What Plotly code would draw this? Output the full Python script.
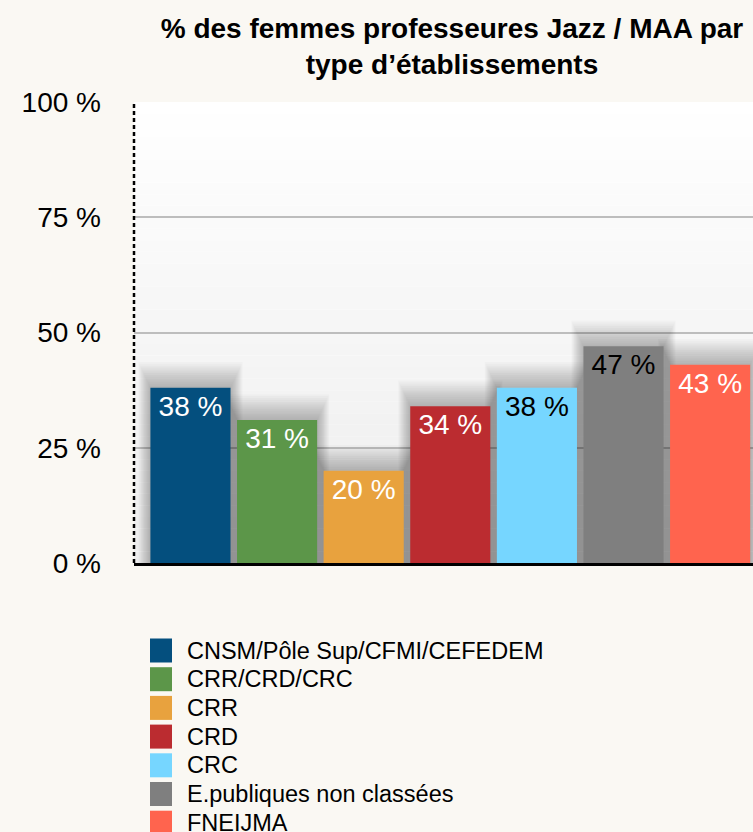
import plotly.graph_objects as go

# data
categories = ['CNSM/Pôle Sup/CFMI/CEFEDEM', 'CRR/CRD/CRC', 'CRR', 'CRD', 'CRC',
              'E.publiques non classées', 'FNEIJMA']
values = [38, 31, 20, 34, 38, 47, 43]
bar_colors = ['#044f7e', '#5c9649', '#e8a23e', '#bb2c30', '#76d6ff', '#7f7f7f', '#ff644e']
text_colors = ['white', 'white', 'white', 'white', 'black', 'black', 'white']
y_ticks = [0, 25, 50, 75, 100]
y_tick_labels = ['0 %', '25 %', '50 %', '75 %', '100 %']

W, H = 753, 832
M_L, M_R, M_T, M_B = 134, 0, 102, 269
FONT = 'Liberation Sans, Arial, Helvetica, sans-serif'
BG = '#faf8f3'


def px_to_paper_y(py):
    return (H - M_B - py) / (H - M_T - M_B)


def px_to_paper_x(px):
    return (px - M_L) / (W - M_L - M_R)


x = list(range(len(categories)))

fig = go.Figure()

# soft shadow behind the bars
for k in range(1, 15):
    fig.add_trace(go.Bar(x=x, y=[v + 0.4 * k for v in values],
                         width=0.925 + 0.02 * k,
                         marker=dict(color='rgba(0,0,0,0.02)', line=dict(width=0)),
                         hoverinfo='skip', showlegend=False))

fig.add_trace(go.Bar(x=x, y=values, width=0.925,
                     marker=dict(color=bar_colors, line=dict(width=0)),
                     text=[f'{v} %' for v in values],
                     textposition='inside', insidetextanchor='end',
                     textangle=0, constraintext='none',
                     textfont=dict(family=FONT, size=28, color=text_colors),
                     hovertext=categories, showlegend=False))

shapes = []
# background gradient of the plot area
n = 40
for i in range(n):
    t = i / n
    c = int(round(237 + (255 - 237) * t))
    shapes.append(dict(type='rect', xref='paper', yref='paper', x0=0, x1=1,
                       y0=i / n, y1=(i + 1) / n, layer='below',
                       fillcolor=f'rgb({c},{c},{c})', line=dict(width=0)))
# dotted y axis
shapes.append(dict(type='line', xref='paper', yref='y', x0=0, x1=0, y0=0, y1=100,
                   line=dict(color='black', width=2.5, dash='4px,3px')))

# hand-drawn legend (big colour squares as in the reference)
annotations = []
row0, row_step = 650.5, 28.7
for i, (name, col) in enumerate(zip(categories, bar_colors)):
    cy = row0 + i * row_step
    shapes.append(dict(type='rect', xref='paper', yref='paper',
                       x0=px_to_paper_x(150), x1=px_to_paper_x(172),
                       y0=px_to_paper_y(cy + 12), y1=px_to_paper_y(cy - 12),
                       fillcolor=col, line=dict(width=0)))
    annotations.append(dict(xref='paper', yref='paper', x=px_to_paper_x(185),
                            y=px_to_paper_y(cy), text=name, showarrow=False,
                            xanchor='left', yanchor='middle',
                            font=dict(family=FONT, size=23.5, color='black')))

fig.update_layout(
    width=W, height=H,
    margin=dict(l=M_L, r=M_R, t=M_T, b=M_B),
    paper_bgcolor=BG, plot_bgcolor='white',
    barmode='overlay',
    title=dict(text='% des femmes professeures Jazz / MAA par<br>type d’établissements',
               font=dict(family=FONT, size=28, color='black', weight='bold'),
               xref='container', x=452 / W, xanchor='center',
               yref='container', y=1 - 38 / H, yanchor='top'),
    xaxis=dict(range=[-0.652, 6.495], showticklabels=False, showgrid=False,
               zeroline=False, showline=True, linecolor='black', linewidth=2.5,
               ticks=''),
    yaxis=dict(range=[0, 100], tickvals=y_ticks, ticktext=y_tick_labels,
               showgrid=True, gridcolor='#bdbdbd', gridwidth=1.5,
               zeroline=False, showline=False, ticks='',
               ticklabelstandoff=32,
               tickfont=dict(family=FONT, size=28, color='black')),
    shapes=shapes, annotations=annotations,
    showlegend=False,
)

fig.write_html('out.html', config={'displayModeBar': False},
               post_script="document.body.style.margin='0px';")
